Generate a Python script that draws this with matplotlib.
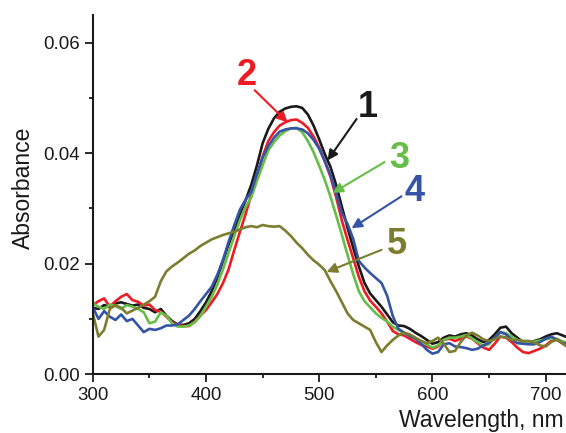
import matplotlib
matplotlib.use("Agg")
import matplotlib.pyplot as plt
import numpy as np
from matplotlib.ticker import MultipleLocator

plt.rcParams["font.family"] = ["Liberation Sans", "DejaVu Sans"]

# absorption spectra, sampled every 5 nm
wavelength = np.arange(300, 721, 5)

abs_1 = [0.0120, 0.0118, 0.0125, 0.0122, 0.0128, 0.0130, 0.0127, 0.0124, 0.0126, 0.0120,
         0.0118, 0.0112, 0.0118, 0.0106, 0.0096, 0.0090, 0.0089, 0.0092, 0.0100, 0.0114,
         0.0130, 0.0150, 0.0175, 0.0205, 0.0235, 0.0262, 0.0290, 0.0315, 0.0343, 0.0378,
         0.0418, 0.0444, 0.0463, 0.0475, 0.0481, 0.0484, 0.0485, 0.0482, 0.0470, 0.0450,
         0.0425, 0.0398, 0.0375, 0.0342, 0.0303, 0.0265, 0.0229, 0.0195, 0.0165, 0.0146,
         0.0134, 0.0122, 0.0108, 0.0094, 0.0088, 0.0087, 0.0082, 0.0075, 0.0069, 0.0062,
         0.0055, 0.0058, 0.0066, 0.0070, 0.0068, 0.0072, 0.0074, 0.0070, 0.0063, 0.0058,
         0.0062, 0.0072, 0.0084, 0.0086, 0.0074, 0.0066, 0.0058, 0.0056, 0.0060, 0.0063,
         0.0068, 0.0072, 0.0074, 0.0070, 0.0066]

abs_2 = [0.0125, 0.0132, 0.0137, 0.0122, 0.0132, 0.0140, 0.0145, 0.0134, 0.0131, 0.0124,
         0.0126, 0.0116, 0.0113, 0.0104, 0.0094, 0.0089, 0.0087, 0.0087, 0.0095, 0.0106,
         0.0116, 0.0130, 0.0145, 0.0165, 0.0190, 0.0225, 0.0258, 0.0290, 0.0325, 0.0358,
         0.0394, 0.0422, 0.0438, 0.0450, 0.0456, 0.0460, 0.0461, 0.0455, 0.0446, 0.0430,
         0.0410, 0.0385, 0.0357, 0.0320, 0.0278, 0.0243, 0.0210, 0.0176, 0.0150, 0.0133,
         0.0122, 0.0110, 0.0095, 0.0078, 0.0072, 0.0070, 0.0064, 0.0058, 0.0053, 0.0050,
         0.0046, 0.0050, 0.0062, 0.0064, 0.0060, 0.0064, 0.0068, 0.0064, 0.0056, 0.0048,
         0.0044, 0.0055, 0.0068, 0.0066, 0.0058, 0.0048, 0.0040, 0.0038, 0.0042, 0.0046,
         0.0052, 0.0060, 0.0062, 0.0056, 0.0050]

abs_3 = [0.0128, 0.0122, 0.0118, 0.0126, 0.0123, 0.0118, 0.0125, 0.0122, 0.0118, 0.0112,
         0.0092, 0.0095, 0.0112, 0.0106, 0.0092, 0.0086, 0.0086, 0.0088, 0.0094, 0.0105,
         0.0122, 0.0140, 0.0162, 0.0190, 0.0220, 0.0250, 0.0279, 0.0303, 0.0320, 0.0350,
         0.0378, 0.0405, 0.0420, 0.0432, 0.0440, 0.0445, 0.0446, 0.0438, 0.0422, 0.0402,
         0.0377, 0.0351, 0.0321, 0.0287, 0.0252, 0.0216, 0.0181, 0.0150, 0.0132, 0.0121,
         0.0110, 0.0102, 0.0095, 0.0086, 0.0080, 0.0074, 0.0069, 0.0065, 0.0060, 0.0054,
         0.0048, 0.0052, 0.0062, 0.0066, 0.0066, 0.0068, 0.0071, 0.0064, 0.0058, 0.0051,
         0.0054, 0.0066, 0.0076, 0.0074, 0.0068, 0.0062, 0.0058, 0.0058, 0.0059, 0.0061,
         0.0063, 0.0065, 0.0064, 0.0059, 0.0057]

abs_4 = [0.0121, 0.0100, 0.0114, 0.0104, 0.0098, 0.0108, 0.0096, 0.0100, 0.0088, 0.0076,
         0.0082, 0.0080, 0.0083, 0.0088, 0.0088, 0.0090, 0.0098, 0.0106, 0.0118, 0.0132,
         0.0145, 0.0158, 0.0180, 0.0207, 0.0240, 0.0270, 0.0298, 0.0316, 0.0330, 0.0363,
         0.0392, 0.0413, 0.0428, 0.0439, 0.0443, 0.0445, 0.0445, 0.0443, 0.0436, 0.0424,
         0.0408, 0.0385, 0.0360, 0.0327, 0.0292, 0.0272, 0.0245, 0.0205, 0.0193, 0.0183,
         0.0174, 0.0165, 0.0142, 0.0105, 0.0082, 0.0075, 0.0069, 0.0064, 0.0055, 0.0044,
         0.0037, 0.0040, 0.0054, 0.0056, 0.0050, 0.0049, 0.0047, 0.0044, 0.0046, 0.0052,
         0.0057, 0.0066, 0.0076, 0.0072, 0.0062, 0.0056, 0.0055, 0.0054, 0.0054, 0.0058,
         0.0064, 0.0068, 0.0062, 0.0056, 0.0054]

abs_5 = [0.0110, 0.0068, 0.0080, 0.0118, 0.0125, 0.0120, 0.0110, 0.0115, 0.0120, 0.0126,
         0.0132, 0.0140, 0.0168, 0.0186, 0.0195, 0.0202, 0.0210, 0.0218, 0.0224, 0.0232,
         0.0238, 0.0244, 0.0248, 0.0252, 0.0255, 0.0258, 0.0262, 0.0266, 0.0268, 0.0266,
         0.0270, 0.0268, 0.0267, 0.0268, 0.0260, 0.0250, 0.0238, 0.0228, 0.0216, 0.0206,
         0.0198, 0.0188, 0.0168, 0.0150, 0.0130, 0.0110, 0.0098, 0.0092, 0.0086, 0.0080,
         0.0058, 0.0040, 0.0052, 0.0062, 0.0070, 0.0075, 0.0072, 0.0066, 0.0060, 0.0056,
         0.0060, 0.0066, 0.0055, 0.0040, 0.0042, 0.0058, 0.0070, 0.0075, 0.0070, 0.0063,
         0.0060, 0.0063, 0.0068, 0.0066, 0.0062, 0.0062, 0.0060, 0.0060, 0.0057, 0.0052,
         0.0050, 0.0058, 0.0063, 0.0055, 0.0048]

spectra = [abs_1, abs_2, abs_3, abs_4, abs_5]
names = ["1", "2", "3", "4", "5"]
colors = ["#1a1a1a", "#ed1c24", "#66bd47", "#3654a5", "#7d7d30"]

fig = plt.figure(figsize=(5.66, 4.33), dpi=100)
ax = fig.add_axes([0.164, 0.136, 0.836, 0.829])

for y, c in zip(spectra, colors):
    ax.plot(wavelength, y, color=c, lw=1.9, solid_joinstyle="round")

# numbered labels with arrows pointing to each curve
label_pos = [(542.7, 0.0482), (436, 0.0541), (571, 0.0391), (584, 0.0330), (569, 0.0234)]
arrow_tail = [(533, 0.0462), (443, 0.0514), (557.7, 0.0384), (572.7, 0.0322), (555, 0.0225)]
arrow_head = [(507.4, 0.0387), (472, 0.0456), (511.8, 0.0328), (528.6, 0.0264), (506.5, 0.0185)]

for n, c, lp, t, h in zip(names, colors, label_pos, arrow_tail, arrow_head):
    ax.text(lp[0], lp[1], n, color=c, fontsize=26, fontweight="bold",
            ha="center", va="center")
    ax.annotate("", xy=h, xytext=t,
                arrowprops=dict(arrowstyle="-|>", color=c, lw=1.5,
                                mutation_scale=15, shrinkA=0, shrinkB=0))

ax.set_xlim(300, 718)
ax.set_ylim(0, 0.065)
ax.xaxis.set_major_locator(MultipleLocator(100))
ax.xaxis.set_minor_locator(MultipleLocator(50))
ax.yaxis.set_major_locator(MultipleLocator(0.02))
ax.yaxis.set_minor_locator(MultipleLocator(0.01))
ax.yaxis.set_major_formatter(plt.FormatStrFormatter("%.2f"))

for s in ["top", "right"]:
    ax.spines[s].set_visible(False)
for s in ["left", "bottom"]:
    ax.spines[s].set_linewidth(1.5)
    ax.spines[s].set_color("#1a1a1a")

ax.tick_params(which="major", direction="out", length=5.5, width=1.3,
               labelsize=13.5, colors="#1a1a1a")
ax.tick_params(which="minor", direction="out", length=3, width=1.3, colors="#1a1a1a")
ax.tick_params(axis="x", which="major", pad=4)
ax.tick_params(axis="y", which="major", pad=3.5)

ax.set_ylabel("Absorbance", fontsize=16.5, color="#1a1a1a")
ax.yaxis.set_label_coords(-0.122, 0.52)
fig.text(0.995, 1 - 420 / 433, "Wavelength, nm", fontsize=16.5, color="#1a1a1a",
         ha="right", va="center")

fig.savefig("out.png", dpi=100)
